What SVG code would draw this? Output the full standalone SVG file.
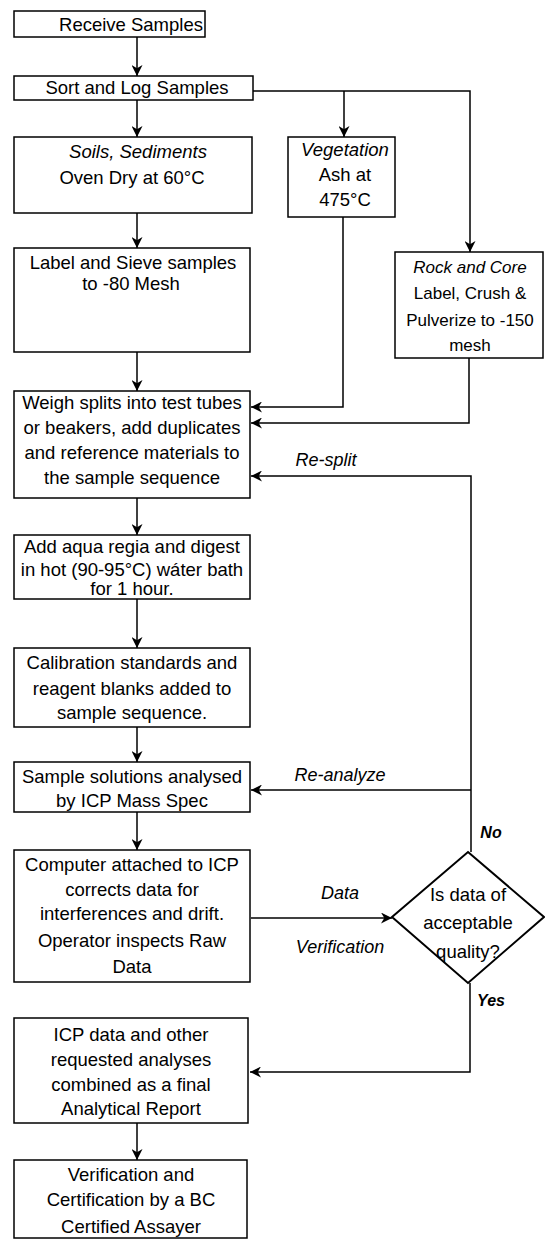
<svg xmlns="http://www.w3.org/2000/svg" width="545" height="1239" viewBox="0 0 545 1239">
<style>
.box{fill:#fff;stroke:#000;stroke-width:1.5}
.t{font-family:"Liberation Sans",Arial,sans-serif;font-size:18.5px;fill:#000;text-anchor:middle}
.s{font-size:17px}
.i{font-style:italic}
.lbl{font-family:"Liberation Sans",Arial,sans-serif;font-size:18px;font-style:italic;fill:#000;text-anchor:middle}
.yn{font-family:"Liberation Sans",Arial,sans-serif;font-size:16px;font-style:italic;font-weight:bold;fill:#000;text-anchor:middle}
.c{fill:none;stroke:#000;stroke-width:1.5}
</style>
<defs>
<marker id="arr" viewBox="0 0 10 10" refX="10" refY="5" markerWidth="11" markerHeight="11" markerUnits="userSpaceOnUse" orient="auto">
<path d="M0,0 L10,5 L0,10 L3,5 z" fill="#000"/>
</marker>
</defs>
<rect width="545" height="1239" fill="#fff"/>
<g id="connectors">
<path class="c" d="M137,37 L137,76" marker-end="url(#arr)"/>
<path class="c" d="M137,100 L137,137" marker-end="url(#arr)"/>
<path class="c" d="M253,91 L470,91 L470,252" marker-end="url(#arr)"/>
<path class="c" d="M344,91 L344,137" marker-end="url(#arr)"/>
<path class="c" d="M137,213 L137,248" marker-end="url(#arr)"/>
<path class="c" d="M137,352 L137,391" marker-end="url(#arr)"/>
<path class="c" d="M343,217 L343,407 L251,407" marker-end="url(#arr)"/>
<path class="c" d="M469,358 L469,423 L251,423" marker-end="url(#arr)"/>
<path class="c" d="M471,852 L471,476 L251,476" marker-end="url(#arr)"/>
<path class="c" d="M471,790 L251,790" marker-end="url(#arr)"/>
<path class="c" d="M137,498 L137,535" marker-end="url(#arr)"/>
<path class="c" d="M137,599 L137,648" marker-end="url(#arr)"/>
<path class="c" d="M137,727 L137,762" marker-end="url(#arr)"/>
<path class="c" d="M137,812 L137,850" marker-end="url(#arr)"/>
<path class="c" d="M251,918 L392,918" marker-end="url(#arr)"/>
<path class="c" d="M470,983 L470,1072 L250,1072" marker-end="url(#arr)"/>
<path class="c" d="M137,1123 L137,1160" marker-end="url(#arr)"/>
<text class="lbl" x="326" y="466">Re-split</text>
<text class="lbl" x="340" y="781">Re-analyze</text>
<text class="lbl" x="340" y="899">Data</text>
<text class="lbl" x="340" y="953">Verification</text>
<text class="yn" x="491" y="838">No</text>
<text class="yn" x="491" y="1006">Yes</text>
</g>
<g id="receive">
<rect class="box" x="14" y="11" width="191" height="26"/>
<text class="t" x="131" y="31">Receive Samples</text>
</g>
<g id="sort">
<rect class="box" x="14" y="76" width="239" height="24"/>
<text class="t" x="137" y="94">Sort and Log Samples</text>
</g>
<g id="soils">
<rect class="box" x="14" y="137" width="238" height="76"/>
<text class="t i" x="138" y="158">Soils, Sediments</text>
<text class="t" x="132" y="184">Oven Dry at 60°C</text>
</g>
<g id="vegetation">
<rect class="box" x="288" y="137" width="107" height="80"/>
<text class="t i" x="345" y="156">Vegetation</text>
<text class="t" x="345" y="181">Ash at</text>
<text class="t" x="345" y="206">475°C</text>
</g>
<g id="rock">
<rect class="box" x="395" y="252" width="148" height="106"/>
<text class="t s i" x="470" y="273">Rock and Core</text>
<text class="t s" x="470" y="299">Label, Crush &amp;</text>
<text class="t s" x="470" y="326">Pulverize to -150</text>
<text class="t s" x="470" y="351">mesh</text>
</g>
<g id="label">
<rect class="box" x="14" y="248" width="236" height="104"/>
<text class="t" x="133" y="269">Label and Sieve samples</text>
<text class="t" x="131" y="290">to -80 Mesh</text>
</g>
<g id="weigh">
<rect class="box" x="14" y="391" width="236" height="107"/>
<text class="t" x="132" y="409">Weigh splits into test tubes</text>
<text class="t" x="132" y="434">or beakers, add duplicates</text>
<text class="t" x="132" y="459">and reference materials to</text>
<text class="t" x="132" y="484">the sample sequence</text>
</g>
<g id="digest">
<rect class="box" x="14" y="535" width="236" height="64"/>
<text class="t" x="132" y="553">Add aqua regia and digest</text>
<text class="t" x="132" y="576">in hot (90-95°C) wáter bath</text>
<text class="t" x="132" y="595">for 1 hour.</text>
</g>
<g id="calibration">
<rect class="box" x="14" y="648" width="236" height="79"/>
<text class="t" x="132" y="669">Calibration standards and</text>
<text class="t" x="132" y="695">reagent blanks added to</text>
<text class="t" x="132" y="719">sample sequence.</text>
</g>
<g id="analysed">
<rect class="box" x="14" y="762" width="236" height="50"/>
<text class="t" x="132" y="783">Sample solutions analysed</text>
<text class="t" x="132" y="807">by ICP Mass Spec</text>
</g>
<g id="computer">
<rect class="box" x="14" y="850" width="236" height="132"/>
<text class="t" x="132" y="871">Computer attached to ICP</text>
<text class="t" x="132" y="896">corrects data for</text>
<text class="t" x="132" y="920">interferences and drift.</text>
<text class="t" x="132" y="947">Operator inspects Raw</text>
<text class="t" x="132" y="973">Data</text>
</g>
<g id="decision">
<polygon points="468,852 544,917 468,983 392,917" fill="#fff" stroke="#000" stroke-width="2"/>
<text class="t" x="468" y="901">Is data of</text>
<text class="t" x="468" y="929">acceptable</text>
<text class="t" x="468" y="958">quality?</text>
</g>
<g id="report">
<rect class="box" x="14" y="1018" width="234" height="105"/>
<text class="t" x="131" y="1041">ICP data and other</text>
<text class="t" x="131" y="1066">requested analyses</text>
<text class="t" x="131" y="1091">combined as a final</text>
<text class="t" x="131" y="1115">Analytical Report</text>
</g>
<g id="certification">
<rect class="box" x="14" y="1160" width="233" height="78"/>
<text class="t" x="131" y="1181">Verification and</text>
<text class="t" x="131" y="1206">Certification by a BC</text>
<text class="t" x="131" y="1233">Certified Assayer</text>
</g>
</svg>
